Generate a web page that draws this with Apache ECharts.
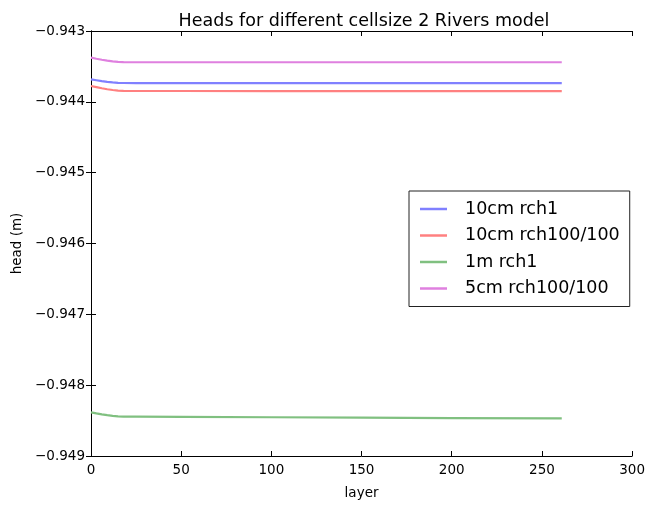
<!DOCTYPE html>
<html>
<head>
<meta charset="utf-8">
<script src="https://cdn.jsdelivr.net/npm/echarts@6/dist/echarts.min.js"></script>
<style>html,body{margin:0;padding:0;background:#fff}#c{width:648px;height:505px}</style>
</head>
<body>
<div id="c"></div>
<script>
const layers = [0, 3, 6, 9, 12, 15, 18, 25, 50, 100, 150, 200, 261];
const blue10cm = [-0.943683, -0.943695, -0.943707, -0.943717, -0.943725, -0.943731, -0.943734, -0.943735, -0.943735, -0.943735, -0.943735, -0.943735, -0.943735];
const red10cm = [-0.943776, -0.943792, -0.943808, -0.943822, -0.943833, -0.943841, -0.943846, -0.943847, -0.943847, -0.943848, -0.943848, -0.943848, -0.943848];
const green1m = [-0.948383, -0.948398, -0.948412, -0.948424, -0.948434, -0.948440, -0.948443, -0.948444, -0.948447, -0.948453, -0.948459, -0.948464, -0.948468];
const pink5cm = [-0.943377, -0.943392, -0.943406, -0.943419, -0.943429, -0.943436, -0.943440, -0.943441, -0.943441, -0.943441, -0.943441, -0.943441, -0.943441];
const seriesNames = ['10cm rch1', '10cm rch100/100', '1m rch1', '5cm rch100/100'];
const seriesColors = ['#8080ff', '#ff8080', '#80c080', '#df80df'];
const seriesValues = [blue10cm, red10cm, green1m, pink5cm];

const FONT = 'DejaVu Sans';
const chart = echarts.init(document.getElementById('c'));
const fmtY = v => (v < 0 ? '\u2212' : '') + Math.abs(v).toFixed(3);
const axCommon = {
  axisLine: {show: true, lineStyle: {color: '#000', width: 1}},
  axisTick: {show: true, inside: true, length: 5, lineStyle: {color: '#000'}},
  splitLine: {show: false}
};
chart.setOption({
  animation: false,
  backgroundColor: '#fff',
  title: {
    text: 'Heads for different cellsize 2 Rivers model',
    left: 359, top: 7, textAlign: 'center',
    textStyle: {fontFamily: FONT, fontSize: 17.5, fontWeight: 'normal', color: '#000'}
  },
  grid: {left: 91, right: 12, top: 31, bottom: 44, containLabel: false},
  legend: {
    orient: 'vertical', left: 409, top: 191,
    data: seriesNames,
    icon: 'rect', itemWidth: 27, itemHeight: 2.5, itemGap: 8.5,
    padding: [9, 10, 9, 11],
    borderColor: '#222', borderWidth: 1, backgroundColor: '#fff',
    textStyle: {fontFamily: FONT, fontSize: 17.5, color: '#000', padding: [0, 0, 0, 13], lineHeight: 17.5}
  },
  xAxis: [
    Object.assign({type: 'value', min: 0, max: 300, interval: 50, position: 'bottom',
      name: 'layer', nameLocation: 'middle', nameGap: 30,
      nameTextStyle: {fontFamily: FONT, fontSize: 13.5, color: '#000'},
      axisLabel: {fontFamily: FONT, fontSize: 13.5, color: '#000', margin: 7}}, axCommon),
    Object.assign({type: 'value', min: 0, max: 300, interval: 50, position: 'top',
      axisLabel: {show: false}}, axCommon)
  ],
  yAxis: [
    Object.assign({type: 'value', min: -0.949, max: -0.943, interval: 0.001, position: 'left',
      name: 'head (m)', nameLocation: 'middle', nameGap: 67, nameRotate: 90,
      nameTextStyle: {fontFamily: FONT, fontSize: 13.5, color: '#000'},
      axisLabel: {fontFamily: FONT, fontSize: 13.5, color: '#000', margin: 6, formatter: fmtY}}, axCommon),
    Object.assign({type: 'value', min: -0.949, max: -0.943, interval: 0.001, position: 'right',
      axisLabel: {show: false}}, axCommon)
  ],
  series: seriesNames.map((n, i) => ({
    name: n, type: 'line', xAxisIndex: 0, yAxisIndex: 0,
    showSymbol: false, symbol: 'none',
    data: layers.map((x, j) => [x, seriesValues[i][j]]),
    lineStyle: {color: seriesColors[i], width: 2.2},
    itemStyle: {color: seriesColors[i]}
  }))
});
</script>
</body>
</html>
